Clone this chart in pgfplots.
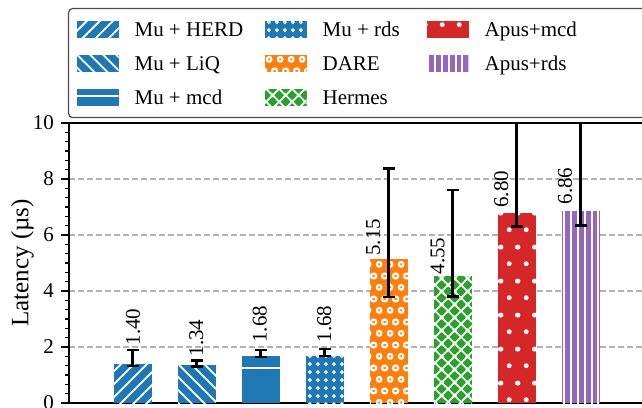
\documentclass[border=0pt]{standalone}
\usepackage{pgfplots}
\pgfplotsset{compat=1.18}
\usepackage{fontspec}
\setmainfont{Liberation Serif}
\usetikzlibrary{patterns,patterns.meta}
\definecolor{cb}{HTML}{1F77B4}
\definecolor{co}{HTML}{FF7F0E}
\definecolor{cg}{HTML}{2CA02C}
\definecolor{cr}{HTML}{D62728}
\definecolor{cp}{HTML}{9467BD}
\pgfdeclarepattern{name=ringsS, type=uncolored,
  bottom left={\pgfqpoint{0pt}{0pt}}, top right={\pgfqpoint{4.15pt}{4.15pt}},
  tile size={\pgfqpoint{4.15pt}{4.15pt}},
  code={\pgfsetlinewidth{0.55pt}\pgfpathcircle{\pgfqpoint{2.075pt}{2.075pt}}{0.75pt}\pgfusepath{stroke}}}
\pgfdeclarepattern{name=ringsB, type=uncolored,
  bottom left={\pgfqpoint{0pt}{0pt}}, top right={\pgfqpoint{5.5pt}{11.4pt}},
  tile size={\pgfqpoint{5.5pt}{11.4pt}},
  code={\pgfsetlinewidth{1.1pt}%
    \pgfpathcircle{\pgfqpoint{2.75pt}{2.85pt}}{1.2pt}%
    \pgfpathcircle{\pgfqpoint{0pt}{8.55pt}}{1.2pt}%
    \pgfpathcircle{\pgfqpoint{5.5pt}{8.55pt}}{1.2pt}\pgfusepath{stroke}}}
\pgfdeclarepattern{name=dotsS, type=uncolored,
  bottom left={\pgfqpoint{0pt}{0pt}}, top right={\pgfqpoint{8.35pt}{17pt}},
  tile size={\pgfqpoint{8.35pt}{17pt}},
  code={\pgfpathcircle{\pgfqpoint{4.175pt}{4.25pt}}{1.25pt}%
    \pgfpathcircle{\pgfqpoint{0pt}{12.75pt}}{1.25pt}%
    \pgfpathcircle{\pgfqpoint{8.35pt}{12.75pt}}{1.25pt}\pgfusepath{fill}}}
\pgfdeclarepattern{name=xhatch, type=uncolored,
  bottom left={\pgfqpoint{0pt}{0pt}}, top right={\pgfqpoint{6.5pt}{6.5pt}},
  tile size={\pgfqpoint{6.5pt}{6.5pt}},
  code={\pgfsetlinewidth{0.9pt}%
    \pgfpathmoveto{\pgfqpoint{-1pt}{-1pt}}\pgfpathlineto{\pgfqpoint{7.5pt}{7.5pt}}%
    \pgfpathmoveto{\pgfqpoint{-1pt}{7.5pt}}\pgfpathlineto{\pgfqpoint{7.5pt}{-1pt}}%
    \pgfpathmoveto{\pgfqpoint{-1pt}{5.5pt}}\pgfpathlineto{\pgfqpoint{1pt}{7.5pt}}%
    \pgfpathmoveto{\pgfqpoint{5.5pt}{-1pt}}\pgfpathlineto{\pgfqpoint{7.5pt}{1pt}}%
    \pgfpathmoveto{\pgfqpoint{-1pt}{1pt}}\pgfpathlineto{\pgfqpoint{1pt}{-1pt}}%
    \pgfpathmoveto{\pgfqpoint{5.5pt}{7.5pt}}\pgfpathlineto{\pgfqpoint{7.5pt}{5.5pt}}%
    \pgfusepath{stroke}}}
\pgfplotsset{
  barbase/.style={ybar, bar shift=0pt, bar width=0.6, draw=none,
    legend image code/.code={\path[##1, sharp corners] (0pt,-4.25pt) rectangle (21pt,4.25pt);}},
}
\begin{document}
\begin{tikzpicture}
\begin{axis}[
  scale only axis, width=288pt, height=140pt,
  xmin=0, xmax=9, ymin=0, ymax=10,
  xtick=\empty,
  ytick={0,2,4,6,8,10}, minor y tick num=5,
  ytick pos=left, tick align=outside,
  major tick length=4pt, minor tick length=2pt,
  every major tick/.append style={line width=1pt, black},
  every minor tick/.append style={line width=0.75pt, black},
  axis line style={line width=1.25pt, black},
  ymajorgrids,
  grid style={dash pattern=on 3pt off 1.5pt, line width=0.75pt, black!30},
  /pgf/number format/assume math mode=true,
  yticklabel style={font=\fontsize{10.5}{12}\selectfont},
  ylabel={Latency (µs)},
  ylabel style={font=\fontsize{12.5}{14}\selectfont, at={(axis description cs:-0.0807,0.5)}, anchor=center},
  legend columns=3,
  legend style={at={(axis description cs:0,1)}, anchor=north west, xshift=-0.5pt, yshift=57.5pt,
    draw=black!70, line width=0.6pt, rounded corners=2pt, fill=white,
    inner xsep=4pt, inner ysep=3.75pt, row sep=4pt, column sep=0pt,
    nodes={inner sep=0pt, text height=10pt, text depth=3pt, font=\fontsize{10.5}{12}\selectfont, anchor=west},
    /tikz/every odd column/.append style={column sep=8pt}},
  error bars/y dir=both, error bars/y explicit,
  error bars/error bar style={line width=1.5pt, black},
  error bars/error mark options={rotate=90, mark size=3pt, line width=1.25pt, black},
]
% row 1 of legend
\addplot[barbase, fill=cb, postaction={pattern={Lines[angle=45,distance=4.6pt,line width=0.9pt]}, pattern color=white}]
  coordinates {(1,1.40) += (0,0.49) -= (0,0.08)};
\addlegendentry{\makebox[65pt][l]{Mu + HERD}}
\addplot[barbase, fill=cb, postaction={pattern=ringsS, pattern color=white}]
  coordinates {(4,1.68) += (0,0.24) -= (0,0.01)};
\addlegendentry{\makebox[52pt][l]{Mu + rds}}
\addplot[barbase, fill=cr, postaction={pattern=dotsS, pattern color=white}]
  coordinates {(7,6.80) += (0,5.0) -= (0,0.50)};
\addlegendentry{\makebox[80pt][l]{Apus+mcd}}
% row 2
\addplot[barbase, fill=cb, postaction={pattern={Lines[angle=-45,distance=4.6pt,line width=0.9pt]}, pattern color=white}]
  coordinates {(2,1.34) += (0,0.17) -= (0,0.04)};
\addlegendentry{\makebox[65pt][l]{Mu + LiQ}}
\addplot[barbase, fill=co, postaction={pattern=ringsB, pattern color=white}]
  coordinates {(5,5.15) += (0,3.22) -= (0,1.37)};
\addlegendentry{\makebox[52pt][l]{DARE}}
\addplot[barbase, fill=cp, postaction={pattern={Lines[angle=90,distance=3.4pt,line width=1pt]}, pattern color=white}]
  coordinates {(8,6.86) += (0,5.0) -= (0,0.52)};
\addlegendentry{\makebox[80pt][l]{Apus+rds}}
% row 3
\addplot[barbase, fill=cb, postaction={pattern={Lines[angle=0,distance=45.33pt,line width=1.25pt,yshift=19.5pt]}, pattern color=white}]
  coordinates {(3,1.68) += (0,0.22) -= (0,0.03)};
\addlegendentry{\makebox[65pt][l]{Mu + mcd}}
\addplot[barbase, fill=cg, postaction={pattern=xhatch, pattern color=white}]
  coordinates {(6,4.55) += (0,3.06) -= (0,0.75)};
\addlegendentry{\makebox[52pt][l]{Hermes}}
% value labels (text starts at the given y)
\addplot[forget plot, draw=none, mark=none, clip=false,
  nodes near coords, point meta=explicit symbolic,
  nodes near coords style={rotate=90, anchor=west, inner sep=0pt, black, font=\fontsize{10.5}{12}\selectfont}]
  coordinates {(1.0,2.04) [1.40] (1.99,1.65) [1.34] (2.98,2.14) [1.68] (3.99,2.15) [1.68]
               (4.75,5.25) [5.15] (5.76,4.58) [4.55] (6.755,6.96) [6.80] (7.75,7.08) [6.86]};
\end{axis}
\pgfresetboundingbox
\useasboundingbox (-34.5pt,-2pt) rectangle (286.5pt,201.5pt);
\end{tikzpicture}
\end{document}
